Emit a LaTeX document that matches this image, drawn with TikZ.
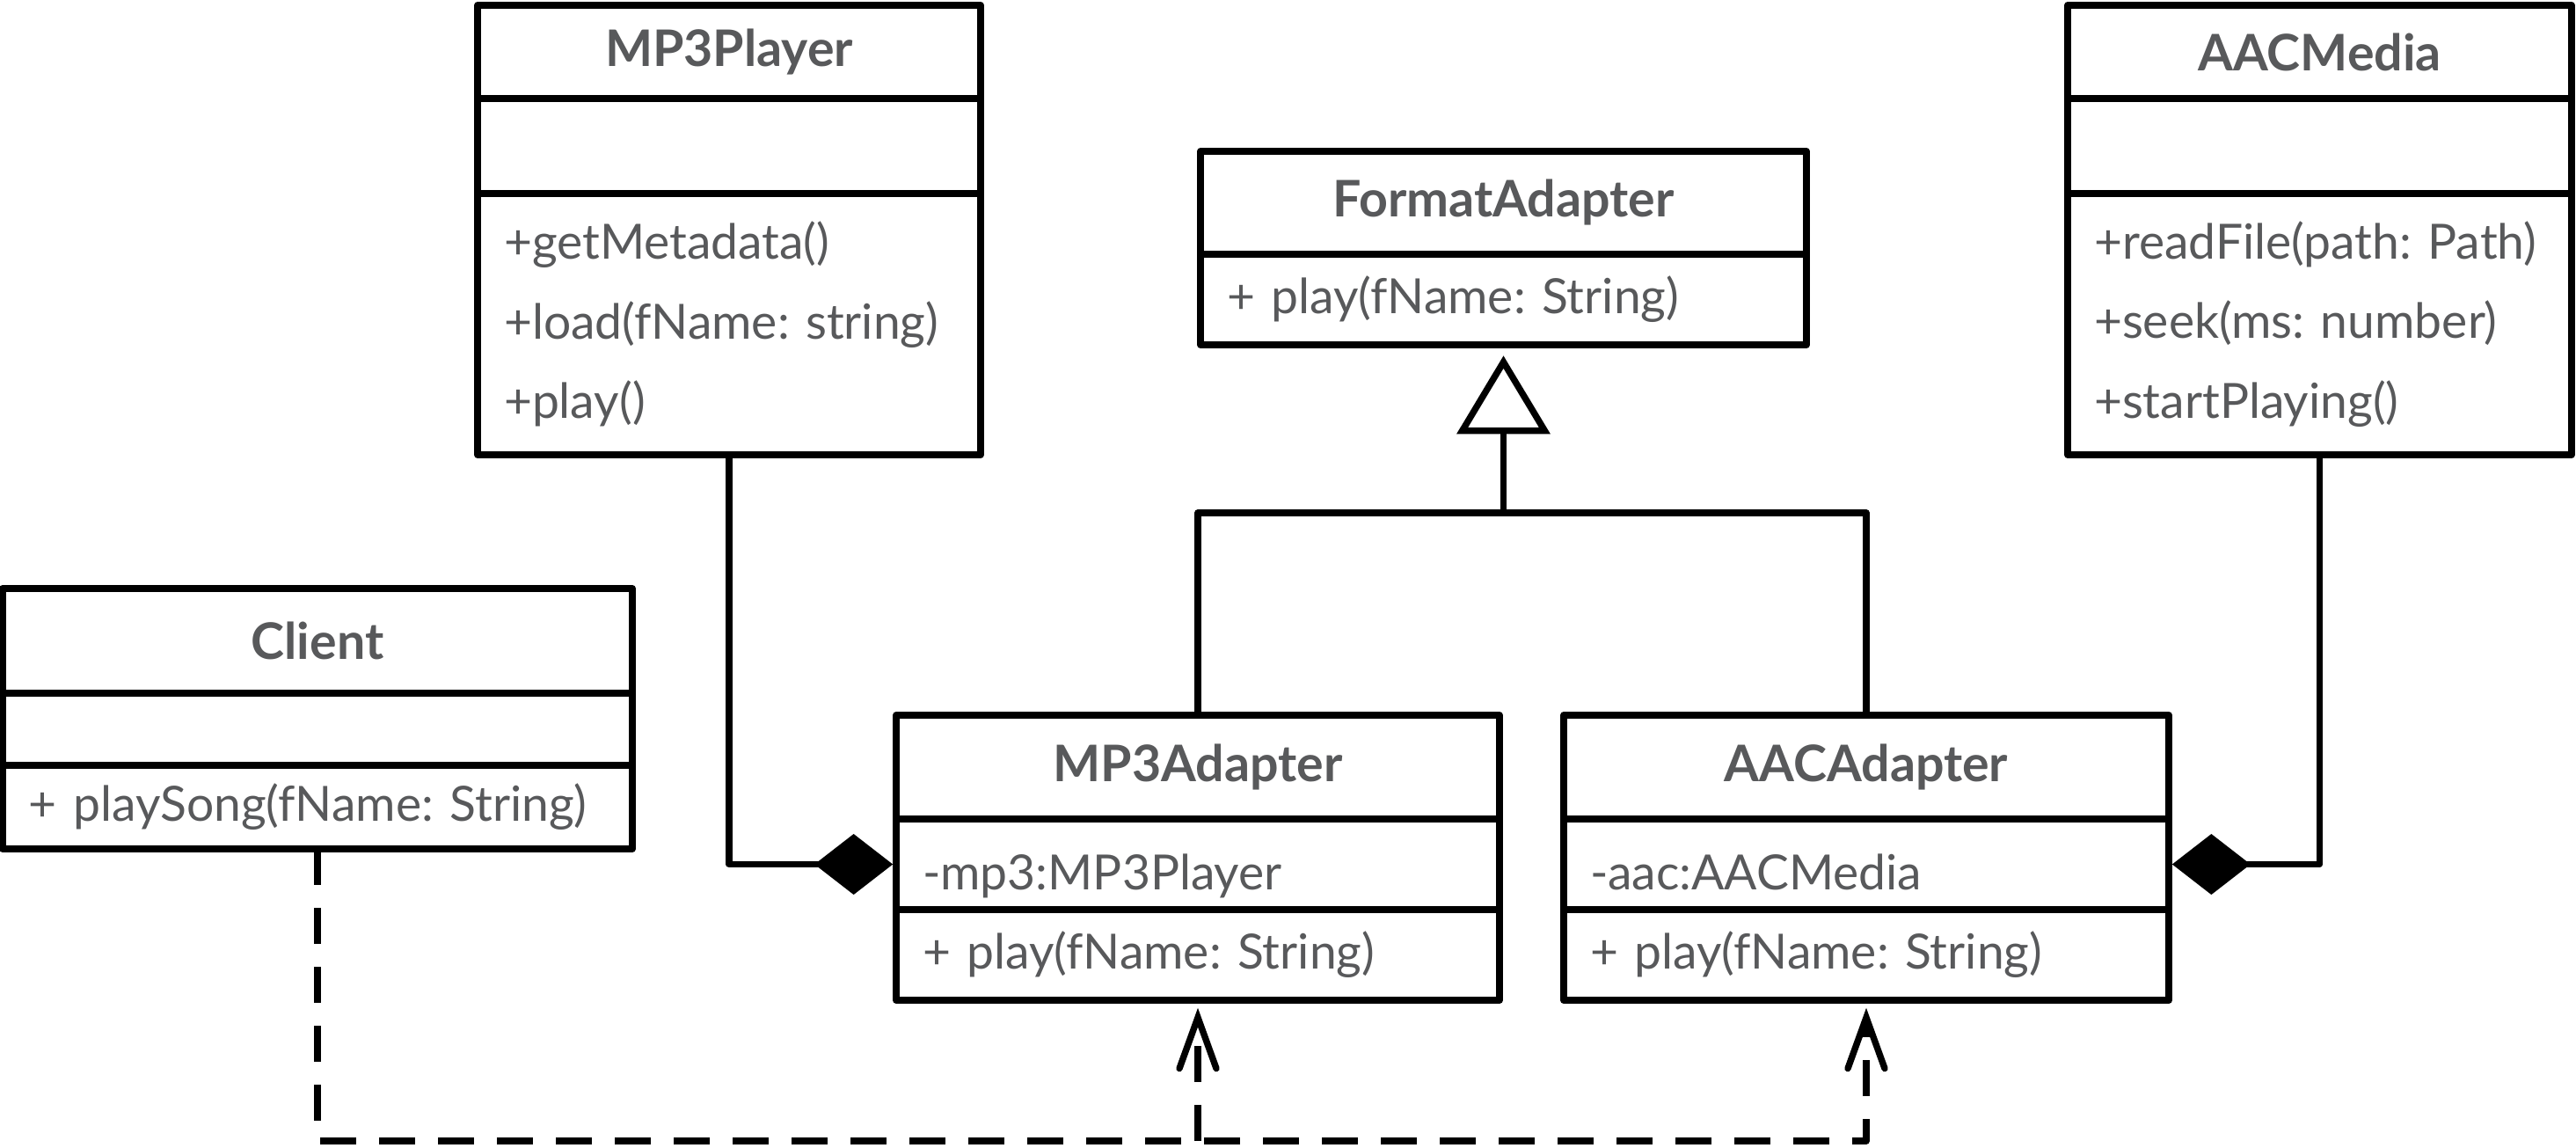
\documentclass[tikz,border=0pt]{standalone}
\usepackage{fontspec}
\setmainfont{Lato}
\usetikzlibrary{positioning,arrows.meta}
\definecolor{umltext}{HTML}{58595B}

\tikzset{
  part/.style={draw, line width=2.3pt, line join=round, text=umltext, outer sep=0pt,
    inner xsep=0.3cm, inner ysep=0pt, font=\frenchspacing\fontsize{15.7}{25.8}\selectfont},
  cname/.style={part, font=\bfseries\fontsize{16.3}{18}\selectfont, align=center},
  cbody/.style={part, align=left},
  cattr/.style={cbody, text height=0.68cm, text depth=0.1cm},
  link/.style={line width=2.1pt, line join=round},
  comp/.style={link, shorten >=1.1pt, -{Diamond[length=0.89cm, width=0.69cm]}},
  gen/.style={link, shorten >=3.5pt, -{Triangle[open, length=0.89cm, width=1.05cm]}},
  dep/.style={link, shorten >=2.5pt, dash pattern=on 0.41cm off 0.26cm,
    -{Straight Barb[length=0.58cm, width=0.42cm, line cap=round]}},
}

\begin{document}
\begin{tikzpicture}
    \useasboundingbox (0,0) rectangle (29.29,-13.04);

    % MP3Player
    \node[cname, minimum width=5.72cm, minimum height=1.06cm, anchor=north west] (mp3p) at (5.43,-0.06) {MP3Player};
    \node[cbody, text width=5.12cm, minimum height=1.08cm, below=0pt of mp3p] (mp3p-attr) {};
    \node[cbody, text width=5.12cm, minimum height=2.97cm, below=0pt of mp3p-attr] (mp3p-ops)
      {+getMetadata()\\+load(fName: string)\\+play()};

    % AACMedia
    \node[cname, minimum width=5.73cm, minimum height=1.06cm, anchor=north west] (aacm) at (23.51,-0.06) {AACMedia};
    \node[cbody, text width=5.13cm, minimum height=1.08cm, below=0pt of aacm] (aacm-attr) {};
    \node[cbody, text width=5.13cm, minimum height=2.97cm, below=0pt of aacm-attr] (aacm-ops)
      {+readFile(path: Path)\\+seek(ms: number)\\+startPlaying()};

    % FormatAdapter
    \node[cname, minimum width=6.89cm, minimum height=1.17cm, anchor=north west] (fmt) at (13.65,-1.72) {FormatAdapter};
    \node[cbody, text width=6.29cm, minimum height=1.03cm, below=0pt of fmt] (fmt-ops) {+ play(fName: String)};

    % Client
    \node[cname, minimum width=7.16cm, minimum height=1.19cm, anchor=north west] (client) at (0.03,-6.69) {Client};
    \node[cbody, text width=6.56cm, minimum height=0.82cm, below=0pt of client] (client-attr) {};
    \node[cbody, text width=6.56cm, minimum height=0.95cm, below=0pt of client-attr] (client-ops) {+ playSong(fName: String)};

    % MP3Adapter
    \node[cname, minimum width=6.86cm, minimum height=1.18cm, anchor=north west] (mp3a) at (10.19,-8.13) {MP3Adapter};
    \node[cattr, text width=6.26cm, minimum height=1.03cm, below=0pt of mp3a] (mp3a-attr) {-mp3:MP3Player};
    \node[cbody, text width=6.26cm, minimum height=1.03cm, below=0pt of mp3a-attr] (mp3a-ops) {+ play(fName: String)};

    % AACAdapter
    \node[cname, minimum width=6.88cm, minimum height=1.18cm, anchor=north west] (aaca) at (17.78,-8.13) {AACAdapter};
    \node[cattr, text width=6.28cm, minimum height=1.03cm, below=0pt of aaca] (aaca-attr) {-aac:AACMedia};
    \node[cbody, text width=6.28cm, minimum height=1.03cm, below=0pt of aaca-attr] (aaca-ops) {+ play(fName: String)};

    % composition
    \draw[comp] (mp3p-ops.south) |- (mp3a-attr.west);
    \draw[comp] (aacm-ops.south) |- (aaca-attr.east);

    % inheritance
    \coordinate (fork) at ([yshift=-1.91cm]fmt-ops.south);
    \draw[link] (mp3a.north) |- (fork) -| (aaca.north);
    \draw[gen] (fork) -- (fmt-ops.south);

    % dependency
    \draw[dep] (client-ops.south) |- ([yshift=-1.6cm]aaca-ops.south) -- (aaca-ops.south);
    \draw[dep] ([yshift=-1.6cm]mp3a-ops.south) -- (mp3a-ops.south);
  \end{tikzpicture}
\end{document}
